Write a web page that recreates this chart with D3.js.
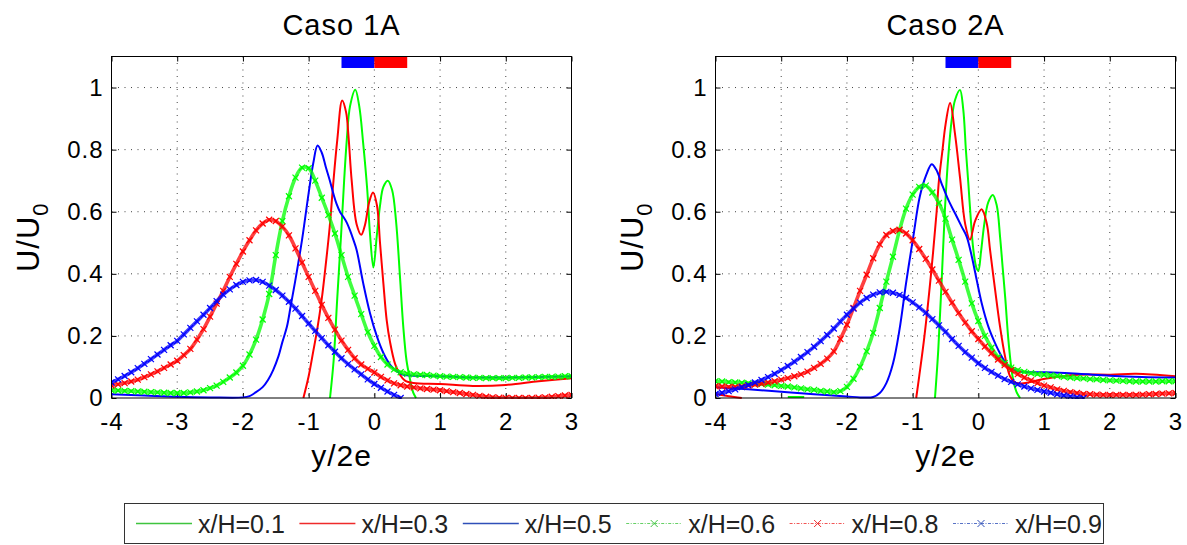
<!DOCTYPE html>
<html>
<head>
<meta charset="utf-8">
<script src="https://cdn.jsdelivr.net/npm/d3@7/dist/d3.min.js"></script>
<style>
body { margin: 0; background: #fff; }
svg { display: block; font-family: 'Liberation Sans', Arial, Helvetica, sans-serif; }
</style>
</head>
<body>
<svg></svg>
<script>

// ---- data ----

const panelTitles = ['Caso 1A', 'Caso 2A']
const seriesNames = ['x/H=0.1', 'x/H=0.3', 'x/H=0.5', 'x/H=0.6', 'x/H=0.8', 'x/H=0.9']
const seriesColors = ['#00ff00', '#ff0000', '#0000ff', '#00ff00', '#ff0000', '#0000ff']
const legendColors = ['#3fc43f', '#ee2b2b', '#2f4fb8', '#3fc43f', '#ee2b2b', '#2f4fb8']
const seriesMarked = [false, false, false, true, true, true]

const xTicks = [-4, -3, -2, -1, 0, 1, 2, 3]
const yTicks = [0, 0.2, 0.4, 0.6, 0.8, 1]

// nozzle slots drawn at the top of each panel (y/2e)
const slotBlue = [-0.5, 0]
const slotRed = [0, 0.5]
const slotBand = [1.063, 1.1]

// abscissa of the sampled (marker) profiles
const xGrid = [-4, -3.9, -3.8, -3.7, -3.6, -3.5, -3.4, -3.3, -3.2, -3.1,
	-3, -2.9, -2.8, -2.7, -2.6, -2.5, -2.4, -2.3, -2.2, -2.1,
	-2, -1.9, -1.8, -1.7, -1.6, -1.5, -1.4, -1.3, -1.2, -1.1,
	-1, -0.9, -0.8, -0.7, -0.6, -0.5, -0.4, -0.3, -0.2, -0.1,
	0, 0.1, 0.2, 0.3, 0.4, 0.5, 0.6, 0.7, 0.8, 0.9,
	1, 1.1, 1.2, 1.3, 1.4, 1.5, 1.6, 1.7, 1.8, 1.9,
	2, 2.1, 2.2, 2.3, 2.4, 2.5, 2.6, 2.7, 2.8, 2.9, 3]

// Caso 1A, solid profiles as [y/2e, U/U0]
const c1_x01 = [[-0.675, 0], [-0.62, 0.12], [-0.565, 0.32], [-0.505, 0.53], [-0.46, 0.7], [-0.42, 0.83],
	[-0.37, 0.94], [-0.29, 0.993], [-0.23, 0.94], [-0.17, 0.82], [-0.108, 0.67], [-0.067, 0.53],
	[-0.015, 0.42], [0.036, 0.52], [0.086, 0.62], [0.137, 0.68], [0.205, 0.7], [0.27, 0.67],
	[0.33, 0.57], [0.39, 0.39], [0.44, 0.23], [0.49, 0.12], [0.543, 0.06], [0.59, 0.018], [0.634, 0]]
const c1_x03 = [[-1.08, 0], [-1.0, 0.07], [-0.93, 0.15], [-0.87, 0.22], [-0.8, 0.32], [-0.75, 0.41],
	[-0.68, 0.55], [-0.63, 0.68], [-0.565, 0.83], [-0.49, 0.958], [-0.43, 0.92], [-0.396, 0.85],
	[-0.345, 0.7], [-0.27, 0.56], [-0.2, 0.526], [-0.14, 0.56], [-0.08, 0.63], [-0.02, 0.662],
	[0.04, 0.62], [0.086, 0.5], [0.137, 0.37], [0.188, 0.25], [0.239, 0.18], [0.315, 0.11],
	[0.39, 0.075], [0.467, 0.056], [0.594, 0.048], [1.0, 0.045], [1.5, 0.039], [2.0, 0.042],
	[2.5, 0.054], [3.0, 0.064]]
const c1_x05 = [[-4, 0.012], [-3.5, 0.008], [-3, 0.004], [-2.5, 0.002], [-2.0, 0.002], [-1.9, 0.006],
	[-1.82, 0.016], [-1.7, 0.035], [-1.616, 0.059], [-1.54, 0.09], [-1.46, 0.134], [-1.4, 0.18],
	[-1.33, 0.23], [-1.27, 0.3], [-1.21, 0.37], [-1.1, 0.51], [-1.0, 0.66], [-0.93, 0.756],
	[-0.864, 0.813], [-0.8, 0.79], [-0.74, 0.745], [-0.677, 0.7], [-0.62, 0.655], [-0.575, 0.625],
	[-0.52, 0.598], [-0.47, 0.583], [-0.42, 0.565], [-0.37, 0.54], [-0.32, 0.51], [-0.27, 0.477],
	[-0.17, 0.37], [-0.066, 0.273], [0.036, 0.2], [0.137, 0.145], [0.24, 0.107], [0.34, 0.086],
	[0.44, 0.075], [0.6, 0.072], [1.0, 0.07], [1.5, 0.066], [2.0, 0.066], [2.5, 0.068], [3.0, 0.07]]

// Caso 1A, sampled profiles on xGrid
const c1_x06 = [0.025, 0.024, 0.023, 0.022, 0.021, 0.020, 0.019, 0.018, 0.017, 0.016,
	0.016, 0.016, 0.018, 0.021, 0.025, 0.032, 0.040, 0.052, 0.066, 0.082,
	0.104, 0.140, 0.188, 0.253, 0.335, 0.46, 0.57, 0.65, 0.71, 0.742,
	0.74, 0.70, 0.645, 0.59, 0.53, 0.46, 0.39, 0.33, 0.27, 0.212,
	0.168, 0.132, 0.108, 0.092, 0.083, 0.078, 0.076, 0.075, 0.074, 0.072,
	0.070, 0.069, 0.068, 0.067, 0.066, 0.065, 0.065, 0.064, 0.064, 0.064,
	0.064, 0.065, 0.065, 0.066, 0.066, 0.067, 0.068, 0.068, 0.069, 0.070, 0.070]
const c1_x08 = [0.040, 0.044, 0.048, 0.053, 0.059, 0.067, 0.076, 0.086, 0.097, 0.108,
	0.120, 0.138, 0.158, 0.188, 0.222, 0.262, 0.304, 0.345, 0.390, 0.432,
	0.472, 0.508, 0.540, 0.562, 0.574, 0.570, 0.552, 0.524, 0.482, 0.436,
	0.390, 0.345, 0.300, 0.258, 0.220, 0.185, 0.155, 0.128, 0.108, 0.094,
	0.082, 0.068, 0.057, 0.047, 0.041, 0.037, 0.034, 0.031, 0.029, 0.027,
	0.025, 0.022, 0.019, 0.016, 0.013, 0.010, 0.007, 0.004, 0.002, 0.001,
	0, 0, 0, 0, 0, 0.001, 0.002, 0.004, 0.006, 0.008, 0.010]
const c1_x09 = [0.050, 0.060, 0.071, 0.083, 0.096, 0.110, 0.125, 0.140, 0.155, 0.170,
	0.184, 0.205, 0.226, 0.247, 0.268, 0.290, 0.312, 0.333, 0.350, 0.364,
	0.374, 0.379, 0.380, 0.374, 0.362, 0.348, 0.330, 0.310, 0.288, 0.264,
	0.240, 0.216, 0.193, 0.170, 0.149, 0.128, 0.109, 0.092, 0.076, 0.060,
	0.045, 0.033, 0.021, 0.010, 0]

// Caso 2A, solid profiles (null = no visible data)
const c2_x01 = [[-2.9, 0.003], [-2.65, 0.003], [-2.6, null],
	[-0.66, 0], [-0.61, 0.155], [-0.56, 0.37], [-0.508, 0.61], [-0.457, 0.78], [-0.406, 0.895],
	[-0.355, 0.96], [-0.28, 0.992], [-0.23, 0.93], [-0.19, 0.8], [-0.152, 0.69], [-0.11, 0.56],
	[-0.076, 0.477], [-0.03, 0.42], [0.0, 0.41], [0.04, 0.47], [0.09, 0.56], [0.15, 0.63],
	[0.22, 0.654], [0.28, 0.62], [0.33, 0.52], [0.37, 0.42], [0.41, 0.32], [0.46, 0.18],
	[0.52, 0.07], [0.58, 0.02], [0.635, 0]]
const c2_x03 = [[-4, 0.013], [-3.8, 0.006], [-3.6, 0], [-3.5, null],
	[-0.946, 0], [-0.9, 0.07], [-0.82, 0.2], [-0.72, 0.4], [-0.635, 0.6], [-0.6, 0.7], [-0.545, 0.8],
	[-0.5, 0.88], [-0.43, 0.95], [-0.355, 0.85], [-0.279, 0.71], [-0.2, 0.56], [-0.127, 0.51],
	[-0.05, 0.57], [0.05, 0.608], [0.127, 0.563], [0.178, 0.477], [0.254, 0.35], [0.33, 0.23],
	[0.406, 0.134], [0.482, 0.07], [0.558, 0.05], [0.66, 0.047], [0.863, 0.055], [1.015, 0.062],
	[1.52, 0.075], [2.01, 0.075], [2.4, 0.078], [3.0, 0.07]]
const c2_x05 = [[-4, 0.035], [-3.5, 0.028], [-3, 0.02], [-2.5, 0.012], [-2, 0.005], [-1.8, 0.002],
	[-1.6, 0.003], [-1.5, 0.016], [-1.4, 0.048], [-1.3, 0.11], [-1.2, 0.22], [-1.1, 0.37],
	[-0.99, 0.52], [-0.89, 0.65], [-0.79, 0.72], [-0.71, 0.753], [-0.64, 0.735], [-0.558, 0.69],
	[-0.457, 0.638], [-0.355, 0.595], [-0.254, 0.552], [-0.178, 0.52], [-0.1, 0.456], [-0.025, 0.38],
	[0.05, 0.306], [0.152, 0.23], [0.254, 0.177], [0.355, 0.134], [0.457, 0.102], [0.61, 0.086],
	[1.015, 0.083], [1.52, 0.078], [2.0, 0.072], [2.49, 0.068], [3.0, 0.066]]

// Caso 2A, sampled profiles on xGrid
const c2_x06 = [0.054, 0.053, 0.051, 0.050, 0.049, 0.048, 0.046, 0.045, 0.043, 0.041,
	0.039, 0.037, 0.034, 0.031, 0.028, 0.026, 0.023, 0.021, 0.019, 0.022,
	0.036, 0.062, 0.100, 0.150, 0.210, 0.290, 0.375, 0.455, 0.540, 0.610,
	0.655, 0.680, 0.684, 0.662, 0.628, 0.578, 0.510, 0.445, 0.375, 0.305,
	0.248, 0.200, 0.162, 0.132, 0.112, 0.098, 0.090, 0.084, 0.080, 0.077,
	0.075, 0.073, 0.071, 0.068, 0.066, 0.064, 0.063, 0.061, 0.060, 0.058,
	0.057, 0.056, 0.055, 0.054, 0.053, 0.053, 0.053, 0.053, 0.054, 0.054, 0.054]
const c2_x08 = [0.038, 0.037, 0.036, 0.036, 0.037, 0.040, 0.043, 0.046, 0.050, 0.054,
	0.059, 0.064, 0.070, 0.076, 0.085, 0.097, 0.110, 0.127, 0.150, 0.190,
	0.236, 0.290, 0.345, 0.397, 0.450, 0.495, 0.525, 0.538, 0.542, 0.530,
	0.508, 0.480, 0.448, 0.414, 0.378, 0.342, 0.307, 0.274, 0.243, 0.215,
	0.190, 0.166, 0.144, 0.124, 0.106, 0.090, 0.077, 0.066, 0.057, 0.048,
	0.040, 0.034, 0.028, 0.023, 0.019, 0.016, 0.013, 0.012, 0.011, 0.010,
	0.010, 0.010, 0.010, 0.010, 0.010, 0.011, 0.012, 0.013, 0.014, 0.015, 0.016]
const c2_x09 = [0.013, 0.017, 0.022, 0.028, 0.035, 0.042, 0.050, 0.058, 0.067, 0.078,
	0.090, 0.103, 0.117, 0.132, 0.148, 0.165, 0.183, 0.203, 0.224, 0.246,
	0.268, 0.288, 0.307, 0.322, 0.333, 0.340, 0.342, 0.339, 0.332, 0.322,
	0.308, 0.292, 0.274, 0.254, 0.234, 0.213, 0.190, 0.168, 0.148, 0.130,
	0.112, 0.097, 0.084, 0.072, 0.061, 0.052, 0.044, 0.037, 0.031, 0.026,
	0.021, 0.017, 0.012, 0.008, 0.005, 0.002, 0]

// ---- layout ----

let w = 1187, h = 545
let plotLeft = [111.5, 715.5], plotW = 460, plotTop = 56.5, plotH = 341.5

const onGrid = ys => ys.map((v, i) => [xGrid[i], v])

const panels = [
	{ title: panelTitles[0], left: plotLeft[0], curves: [c1_x01, c1_x03, c1_x05, onGrid(c1_x06), onGrid(c1_x08), onGrid(c1_x09)] },
	{ title: panelTitles[1], left: plotLeft[1], curves: [c2_x01, c2_x03, c2_x05, onGrid(c2_x06), onGrid(c2_x08), onGrid(c2_x09)] }
]

let svg = d3.select('svg')
	.attr('width', w)
	.attr('height', h)
	.style('background-color', '#fff')

const xMark = 'M-3,-3L3,3M-3,3L3,-3'

panels.forEach((p, k) => {

	let scX = d3.scaleLinear()
		.domain([-4, 3])
		.range([p.left, p.left + plotW])

	let scY = d3.scaleLinear()
		.domain([0, 1.1])
		.range([plotTop + plotH, plotTop])

	let g = svg.append('g')

	g.append('clipPath')
		.attr('id', 'clip' + k)
		.append('rect')
		.attr('x', p.left)
		.attr('y', plotTop - 1)
		.attr('width', plotW)
		.attr('height', plotH + 2)

	// dotted grid
	g.append('g')
		.selectAll('line')
		.data(xTicks.slice(1, -1)).enter().append('line')
		.attr('x1', d => scX(d)).attr('x2', d => scX(d))
		.attr('y1', plotTop).attr('y2', plotTop + plotH)
		.attr('stroke', '#444').attr('stroke-width', 1)
		.attr('stroke-dasharray', '1,5.5')

	g.append('g')
		.selectAll('line')
		.data(yTicks.slice(1)).enter().append('line')
		.attr('x1', p.left).attr('x2', p.left + plotW)
		.attr('y1', d => scY(d)).attr('y2', d => scY(d))
		.attr('stroke', '#444').attr('stroke-width', 1)
		.attr('stroke-dasharray', '1,5.5')

	// axes, MATLAB style ticks pointing inwards
	let fmt = d => String(d)

	g.append('g')
		.attr('transform', `translate(0, ${plotTop + plotH})`)
		.call(d3.axisBottom(scX).tickValues(xTicks).tickFormat(fmt).tickSizeInner(-5).tickSizeOuter(0).tickPadding(15))
	g.append('g')
		.attr('transform', `translate(0, ${plotTop})`)
		.call(d3.axisTop(scX).tickValues(xTicks).tickFormat('').tickSizeInner(-5).tickSizeOuter(0))
	g.append('g')
		.attr('transform', `translate(${p.left}, 0)`)
		.call(d3.axisLeft(scY).tickValues(yTicks).tickFormat(fmt).tickSizeInner(-5).tickSizeOuter(0).tickPadding(8))
	g.append('g')
		.attr('transform', `translate(${p.left + plotW}, 0)`)
		.call(d3.axisRight(scY).tickValues(yTicks).tickFormat('').tickSizeInner(-5).tickSizeOuter(0))

	g.selectAll('.domain').remove()
	g.selectAll('.tick line').attr('stroke', '#000')
	g.selectAll('.tick text')
		.attr('fill', '#000')
		.style('font-size', '24px')
		.style('letter-spacing', '1px')
		.style('font-family', "'Liberation Sans', Arial, sans-serif")

	// curves
	let line = d3.line()
		.defined(d => d[1] != null)
		.x(d => scX(d[0]))
		.y(d => scY(d[1]))
		.curve(d3.curveCatmullRom.alpha(0.5))

	let plot = g.append('g').attr('clip-path', `url(#clip${k})`)

	p.curves.forEach((data, i) => {
		if (!seriesMarked[i]) {
			plot.append('path')
				.datum(data)
				.attr('d', line)
				.attr('fill', 'none')
				.attr('stroke', seriesColors[i])
				.attr('stroke-width', 2)
		} else {
			// the dense 'x' markers read as a thick fuzzy band
			plot.append('path')
				.datum(data)
				.attr('d', line)
				.attr('fill', 'none')
				.attr('stroke', seriesColors[i])
				.attr('stroke-width', 3.6)
				.attr('stroke-opacity', 0.75)
			plot.append('g')
				.selectAll('path')
				.data(data).enter().append('path')
				.attr('transform', d => `translate(${scX(d[0])}, ${scY(d[1])})`)
				.attr('d', xMark)
				.attr('stroke', seriesColors[i])
				.attr('stroke-width', 1.2)
				.attr('fill', 'none')
		}
	})

	// nozzle slots
	g.append('rect')
		.attr('x', scX(slotBlue[0])).attr('width', scX(slotBlue[1]) - scX(slotBlue[0]))
		.attr('y', scY(slotBand[1])).attr('height', scY(slotBand[0]) - scY(slotBand[1]))
		.attr('fill', '#0000ff')
	g.append('rect')
		.attr('x', scX(slotRed[0])).attr('width', scX(slotRed[1]) - scX(slotRed[0]))
		.attr('y', scY(slotBand[1])).attr('height', scY(slotBand[0]) - scY(slotBand[1]))
		.attr('fill', '#ff0000')

	// box
	g.append('rect')
		.attr('x', p.left).attr('y', plotTop)
		.attr('width', plotW).attr('height', plotH)
		.attr('fill', 'none').attr('stroke', '#000').attr('stroke-width', 1)

	// titles and labels
	let cx = p.left + plotW / 2

	g.append('text')
		.attr('x', cx).attr('y', 35)
		.attr('text-anchor', 'middle')
		.style('font-size', '29px')
		.style('letter-spacing', '1px')
		.text(p.title)

	g.append('text')
		.attr('x', cx).attr('y', 466)
		.attr('text-anchor', 'middle')
		.style('font-size', '30px')
		.style('letter-spacing', '1px')
		.text('y/2e')

	let yl = g.append('text')
		.attr('transform', `translate(${p.left - 73}, ${plotTop + plotH / 2 + 10}) rotate(-90)`)
		.attr('text-anchor', 'middle')
		.style('font-size', '31px')
		.style('letter-spacing', '1px')
	yl.append('tspan').text('U/U')
	yl.append('tspan').attr('dy', 9).style('font-size', '22px').text('0')
})

// ---- legend ----

let lg = svg.append('g')

lg.append('rect')
	.attr('x', 124.5).attr('y', 503.5)
	.attr('width', 979).attr('height', 40)
	.attr('fill', '#fff').attr('stroke', '#333').attr('stroke-width', 1)

let items = lg.selectAll('g.item')
	.data(seriesNames).enter().append('g')
	.attr('class', 'item')
	.attr('transform', (d, i) => `translate(${136 + i * 163.4}, 523.5)`)

items.append('line')
	.attr('x1', 0).attr('x2', 56)
	.attr('stroke', (d, i) => legendColors[i])
	.attr('stroke-width', (d, i) => seriesMarked[i] ? 0.8 : 1.4)
	.attr('stroke-dasharray', (d, i) => seriesMarked[i] ? '3,1.5,1,1.5' : null)

items.filter((d, i) => seriesMarked[i])
	.append('path')
	.attr('transform', 'translate(28, 0)')
	.attr('d', 'M-3.5,-3.5L3.5,3.5M-3.5,3.5L3.5,-3.5')
	.attr('stroke', (d) => legendColors[seriesNames.indexOf(d)])
	.attr('stroke-width', 1)

items.append('text')
	.attr('x', 62).attr('y', 9)
	.attr('fill', '#222')
	.style('font-size', '25px')
	.text(d => d)

</script>
</body>
</html>
